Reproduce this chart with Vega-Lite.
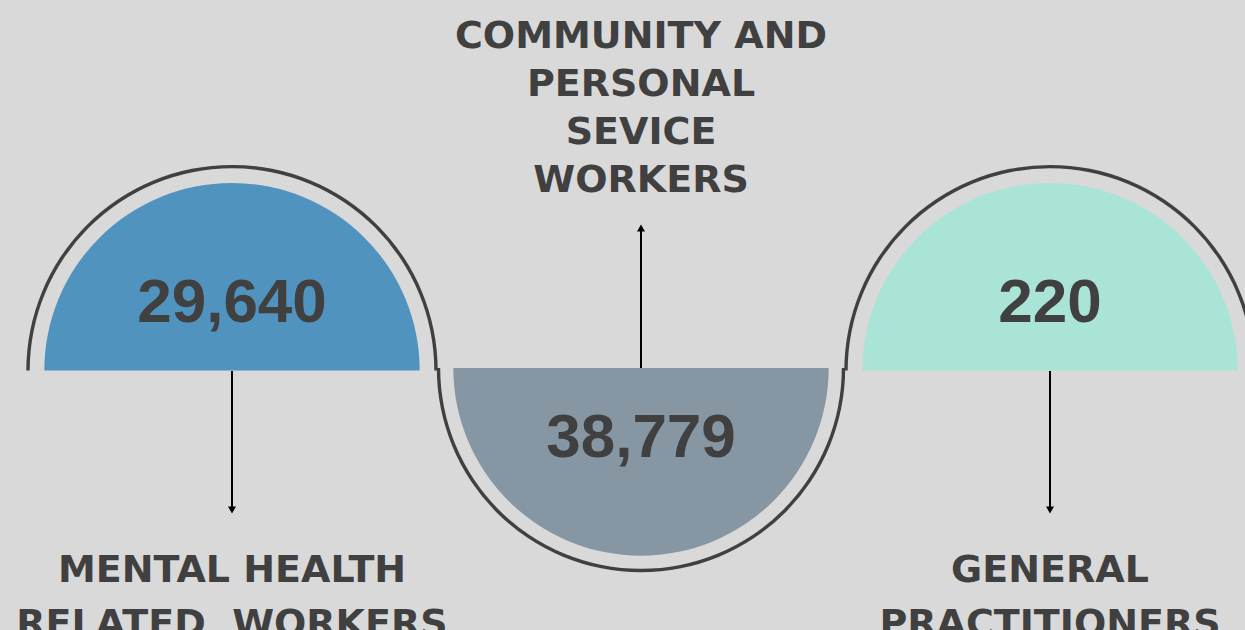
{
  "$schema": "https://vega.github.io/schema/vega-lite/v6.json",
  "width": 1245,
  "height": 630,
  "autosize": {"type": "fit", "contains": "padding"},
  "padding": 0,
  "background": "#d9d9d9",
  "config": {"view": {"stroke": null}, "axis": {"disable": true}},
  "data": {
    "values": [
      {"order": 1, "name": "Mental health related workers", "value": "29,640", "label": "MENTAL HEALTH\nRELATED\u00a0 WORKERS", "half": "upper"},
      {"order": 2, "name": "Community and personal service workers", "value": "38,779", "label": "COMMUNITY AND\nPERSONAL\nSEVICE\nWORKERS", "half": "lower"},
      {"order": 3, "name": "General practitioners", "value": "220", "label": "GENERAL\nPRACTITIONERS", "half": "upper"}
    ]
  },
  "encoding": {
    "x": {"field": "order", "type": "quantitative", "scale": {"domain": [1, 3], "range": [232, 1050], "zero": false, "nice": false}, "axis": null}
  },
  "layer": [
    {
      "transform": [{"filter": "datum.order === 1"}],
      "mark": {"type": "arc", "theta": -1.5708, "theta2": 1.5708, "radius": 205.7, "radius2": 202.3, "color": "#404040"},
      "encoding": {"y": {"datum": 370.6, "type": "quantitative", "scale": {"domain": [0, 630], "range": [0, 630], "zero": false, "nice": false}, "axis": null}}
    },
    {
      "transform": [{"filter": "datum.order === 3"}],
      "mark": {"type": "arc", "theta": -1.5708, "theta2": 1.5708, "radius": 205.7, "radius2": 202.3, "color": "#404040"},
      "encoding": {"y": {"datum": 370.6, "type": "quantitative"}}
    },
    {
      "transform": [{"filter": "datum.order === 2"}],
      "mark": {"type": "arc", "theta": 1.5708, "theta2": 4.7124, "radius": 204.2, "radius2": 200.8, "color": "#404040"},
      "encoding": {"y": {"datum": 368, "type": "quantitative"}}
    },
    {
      "transform": [{"filter": "datum.order === 1"}],
      "mark": {"type": "arc", "theta": -1.5708, "theta2": 1.5708, "radius": 187.7},
      "encoding": {
        "y": {"datum": 370.6, "type": "quantitative"},
        "color": {"field": "name", "type": "nominal", "scale": {"domain": ["Mental health related workers", "Community and personal service workers", "General practitioners"], "range": ["#5093bf", "#8696a3", "#a9e4d7"]}, "legend": null}
      }
    },
    {
      "transform": [{"filter": "datum.order === 3"}],
      "mark": {"type": "arc", "theta": -1.5708, "theta2": 1.5708, "radius": 187.7},
      "encoding": {
        "y": {"datum": 370.6, "type": "quantitative"},
        "color": {"field": "name", "type": "nominal", "legend": null}
      }
    },
    {
      "transform": [{"filter": "datum.order === 2"}],
      "mark": {"type": "arc", "theta": 1.5708, "theta2": 4.7124, "radius": 187.7},
      "encoding": {
        "y": {"datum": 368, "type": "quantitative"},
        "color": {"field": "name", "type": "nominal", "legend": null}
      }
    },
    {
      "transform": [{"filter": "datum.half === 'upper'"}],
      "mark": {"type": "rule", "color": "#000000", "strokeWidth": 2},
      "encoding": {"y": {"datum": 371, "type": "quantitative"}, "y2": {"datum": 508}}
    },
    {
      "transform": [{"filter": "datum.half === 'lower'"}],
      "mark": {"type": "rule", "color": "#000000", "strokeWidth": 2},
      "encoding": {"y": {"datum": 368, "type": "quantitative"}, "y2": {"datum": 230}}
    },
    {
      "transform": [{"filter": "datum.half === 'upper'"}],
      "mark": {"type": "point", "shape": "triangle-down", "filled": true, "color": "#000000", "size": 65, "opacity": 1},
      "encoding": {"y": {"datum": 510, "type": "quantitative"}}
    },
    {
      "transform": [{"filter": "datum.half === 'lower'"}],
      "mark": {"type": "point", "shape": "triangle-up", "filled": true, "color": "#000000", "size": 65, "opacity": 1},
      "encoding": {"y": {"datum": 228, "type": "quantitative"}}
    },
    {
      "transform": [{"filter": "datum.half === 'upper'"}],
      "mark": {"type": "text", "font": "Liberation Sans", "fontWeight": "bold", "fontSize": 62, "color": "#404040", "align": "center", "baseline": "alphabetic"},
      "encoding": {"y": {"datum": 321.7, "type": "quantitative"}, "text": {"field": "value", "type": "nominal"}}
    },
    {
      "transform": [{"filter": "datum.half === 'lower'"}],
      "mark": {"type": "text", "font": "Liberation Sans", "fontWeight": "bold", "fontSize": 62, "color": "#404040", "align": "center", "baseline": "alphabetic"},
      "encoding": {"y": {"datum": 457.3, "type": "quantitative"}, "text": {"field": "value", "type": "nominal"}}
    },
    {
      "transform": [{"filter": "datum.half === 'upper'"}],
      "mark": {"type": "text", "font": "DejaVu Sans", "fontWeight": "bold", "fontSize": 38, "color": "#404040", "align": "center", "baseline": "alphabetic", "lineBreak": "\n", "lineHeight": 54.5},
      "encoding": {"y": {"datum": 581.5, "type": "quantitative"}, "text": {"field": "label", "type": "nominal"}}
    },
    {
      "transform": [{"filter": "datum.half === 'lower'"}],
      "mark": {"type": "text", "font": "DejaVu Sans", "fontWeight": "bold", "fontSize": 38, "color": "#404040", "align": "center", "baseline": "alphabetic", "lineBreak": "\n", "lineHeight": 47.8},
      "encoding": {"y": {"datum": 48.3, "type": "quantitative"}, "text": {"field": "label", "type": "nominal"}}
    }
  ]
}
